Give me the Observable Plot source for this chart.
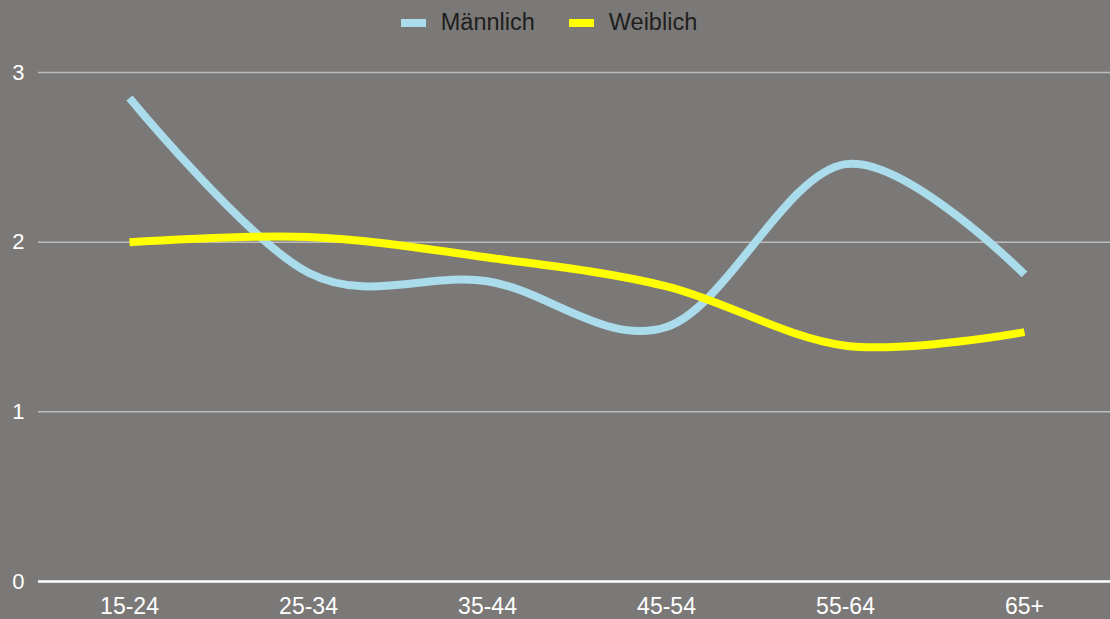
<!DOCTYPE html>
<html>
<head>
<meta charset="utf-8">
<script src="https://cdn.jsdelivr.net/npm/d3@7"></script>
<script src="https://cdn.jsdelivr.net/npm/@observablehq/plot@0.6"></script>
<style>
  html, body { margin: 0; padding: 0; background: #7b7977; width: 1110px; height: 619px; overflow: hidden; }
  body { font-family: "Liberation Sans", Arial, Helvetica, sans-serif; }
  #legend { height: 45px; display: flex; justify-content: center; align-items: center; padding-right: 12px; box-sizing: border-box; }
  .item { display: flex; align-items: center; font-size: 23.5px; color: #1e1e1e; margin: 0 17px; }
  .sw { width: 25px; height: 8px; margin-right: 15px; }
  #chart svg { display: block; }
</style>
</head>
<body>
<div id="legend"></div>
<div id="chart"></div>
<script>
const categories = ["15-24", "25-34", "35-44", "45-54", "55-64", "65+"];
const seriesNames = ["Männlich", "Weiblich"];
const seriesColors = ["#aadcec", "#ffff00"];
const maleValues = [2.85, 1.82, 1.77, 1.50, 2.46, 1.81];
const femaleValues = [2.00, 2.03, 1.91, 1.74, 1.39, 1.47];
const yTicks = [0, 1, 2, 3];

const legend = document.getElementById("legend");
seriesNames.forEach((name, i) => {
  const item = document.createElement("div");
  item.className = "item";
  const sw = document.createElement("span");
  sw.className = "sw";
  sw.style.background = seriesColors[i];
  const t = document.createElement("span");
  t.textContent = name;
  item.appendChild(sw);
  item.appendChild(t);
  legend.appendChild(item);
});

const data = [];
categories.forEach((c, i) => {
  data.push({cat: c, value: maleValues[i], series: seriesNames[0]});
});
categories.forEach((c, i) => {
  data.push({cat: c, value: femaleValues[i], series: seriesNames[1]});
});

const chart = Plot.plot({
  width: 1110,
  height: 574,
  marginTop: 27,
  marginBottom: 38,
  marginLeft: 38,
  marginRight: 0,
  style: {background: "transparent", color: "white", fontFamily: "'Liberation Sans', Arial, Helvetica, sans-serif"},
  x: {type: "point", domain: categories, range: [128, 1025], padding: 0},
  y: {domain: [0, 3]},
  color: {domain: seriesNames, range: seriesColors},
  marks: [
    Plot.ruleY(yTicks.filter(d => d > 0), {stroke: "#bcbcbc", strokeWidth: 1.5}),
    Plot.ruleY([0], {stroke: "white", strokeWidth: 2.5}),
    Plot.axisY({ticks: yTicks, tickSize: 0, tickPadding: 14, fontSize: 22, tickFormat: d => String(d), label: null}),
    Plot.axisX({tickSize: 0, tickPadding: 16, fontSize: 23, label: null}),
    Plot.line(data, {x: "cat", y: "value", z: "series", stroke: "series", strokeWidth: 8, curve: "cardinal", tension: 0, strokeLinecap: "butt", strokeLinejoin: "round"})
  ]
});
document.getElementById("chart").appendChild(chart);
</script>
</body>
</html>
